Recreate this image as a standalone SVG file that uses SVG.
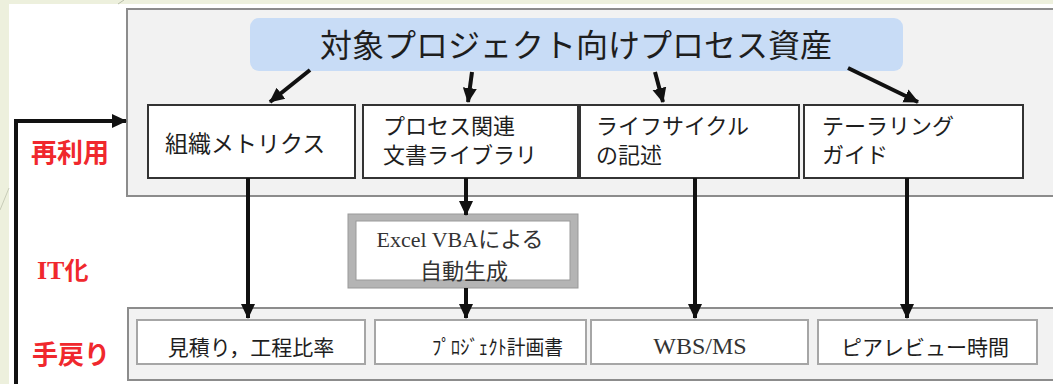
<svg xmlns="http://www.w3.org/2000/svg" width="1053" height="384" viewBox="0 0 1053 384">
<defs>
<style>
.jp{font-family:"Noto Sans CJK JP","Noto Sans",sans-serif;fill:#1e1e1e}
.red{font-family:"Noto Sans CJK JP",sans-serif;fill:#f0282d;font-weight:bold}
.ser{font-family:"Liberation Serif","Noto Sans CJK JP",serif;fill:#333}
.box{fill:#ffffff;stroke:#333;stroke-width:2}
.sub{fill:#ffffff;stroke:#a6a6a6;stroke-width:2}
.panel{fill:#f2f2f2;stroke:#8c8c8c;stroke-width:2}
.con{stroke:#111;stroke-width:4;fill:none}
</style>
<marker id="ah" markerUnits="userSpaceOnUse" markerWidth="16" markerHeight="16" viewBox="0 0 16 16" refX="14" refY="8" orient="auto">
<path d="M0,1 L15,8 L0,15 Z" fill="#111"/>
</marker>
</defs>
<rect x="0" y="0" width="1053" height="384" fill="#edf0dd"/>
<rect x="9" y="4" width="1044" height="380" fill="#ffffff"/>
<line x1="118" y1="4" x2="124" y2="0" stroke="#b8bca8" stroke-width="1"/>
<line x1="0" y1="210" x2="9" y2="188" stroke="#c8ccb8" stroke-width="1"/>

<g id="panel-top"><rect class="panel" x="127" y="9" width="940" height="187"/></g>
<g id="panel-bottom"><rect class="panel" x="128" y="308" width="940" height="72"/></g>

<g id="title">
<rect x="250" y="18" width="653" height="53" rx="9" fill="#c8dcf6"/>
<text class="jp" x="576" y="57" font-size="32" text-anchor="middle">対象プロジェクト向けプロセス資産</text>
</g>

<g id="box-metrics"><rect class="box" x="148" y="105" width="207" height="73"/>
<text class="jp" x="165" y="152" font-size="23">組織メトリクス</text></g>
<g id="box-library"><rect class="box" x="363" y="105" width="215" height="73"/>
<text class="jp" x="383" y="134" font-size="22">プロセス関連</text>
<text class="jp" x="383" y="163" font-size="22">文書ライブラリ</text></g>
<g id="box-lifecycle"><rect class="box" x="580" y="105" width="219" height="73"/>
<text class="jp" x="596" y="134" font-size="22">ライフサイクル</text>
<text class="jp" x="596" y="163" font-size="22">の記述</text></g>
<g id="box-tailoring"><rect class="box" x="804" y="105" width="219" height="73"/>
<text class="jp" x="822" y="134" font-size="22">テーラリング</text>
<text class="jp" x="822" y="163" font-size="22">ガイド</text></g>

<g id="box-excel">
<rect x="348" y="214" width="230" height="74" fill="#b4b4b4" stroke="#999" stroke-width="1"/>
<rect x="356" y="221" width="214" height="59" fill="#ffffff" stroke="#9a9a9a" stroke-width="1"/>
<text class="ser" x="460" y="247" font-size="22" text-anchor="middle">Excel VBAによる</text>
<text class="ser" x="464" y="279" font-size="22" text-anchor="middle">自動生成</text>
</g>

<g id="out-estimate"><rect class="sub" x="137" y="320" width="228" height="44"/>
<text class="jp" x="251" y="355" font-size="21" text-anchor="middle" fill="#333">見積り，工程比率</text></g>
<g id="out-plan"><rect class="sub" x="375" y="320" width="211" height="44"/>
<text class="jp" x="432" y="355" font-size="20" textLength="131" lengthAdjust="spacingAndGlyphs">ﾌﾟﾛｼﾞｪｸﾄ計画書</text></g>
<g id="out-wbs"><rect class="sub" x="591" y="320" width="217" height="44"/>
<text class="ser" x="700" y="354" font-size="24" text-anchor="middle">WBS/MS</text></g>
<g id="out-review"><rect class="sub" x="818" y="320" width="219" height="44"/>
<text class="jp" x="925" y="355" font-size="21" text-anchor="middle" fill="#333">ピアレビュー時間</text></g>

<g id="labels">
<text class="red" x="31" y="162" font-size="26">再利用</text>
<text class="red" x="37" y="279" font-size="24"><tspan font-family="Liberation Serif,serif" font-size="26">IT</tspan>化</text>
<text class="red" x="32" y="364" font-size="26">手戻り</text>
</g>

<g id="connectors">
<line class="con" x1="310" y1="70" x2="270" y2="102" marker-end="url(#ah)"/>
<line class="con" x1="472" y1="72" x2="468" y2="102" marker-end="url(#ah)"/>
<line class="con" x1="655" y1="72" x2="663" y2="102" marker-end="url(#ah)"/>
<line class="con" x1="848" y1="68" x2="918" y2="102" marker-end="url(#ah)"/>
<line class="con" x1="248" y1="178" x2="248" y2="318" marker-end="url(#ah)"/>
<line class="con" x1="466" y1="178" x2="466" y2="215" marker-end="url(#ah)"/>
<line class="con" x1="466" y1="288" x2="466" y2="318" marker-end="url(#ah)"/>
<line class="con" x1="695" y1="178" x2="695" y2="318" marker-end="url(#ah)"/>
<line class="con" x1="907" y1="178" x2="907" y2="318" marker-end="url(#ah)"/>
<polyline class="con" points="16,384 16,121 126,121" marker-end="url(#ah)"/>
</g>
</svg>
